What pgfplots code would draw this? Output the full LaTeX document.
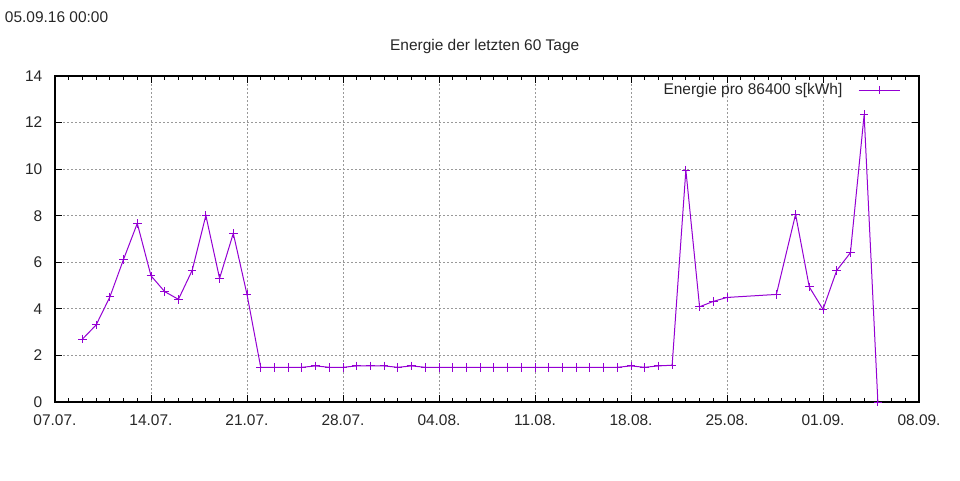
\documentclass[border=0pt]{standalone}
\usepackage{pgfplots}
\pgfplotsset{compat=1.18}
\usepackage{fontspec}
\setmainfont{Liberation Sans}
\definecolor{gpviolet}{HTML}{9400D3}
\newcommand{\gpfont}{\fontsize{11.6}{13}\selectfont}
\begin{document}
\begin{tikzpicture}[x=1pt,y=1pt]
\path[use as bounding box] (0,0) rectangle (720,360);
\node[anchor=west,font=\gpfont,text=black!85,inner sep=0pt] at (3.5,347.2) {05.09.16 00:00};
\node[font=\gpfont,text=black!85,inner sep=0pt] at (363.5,325.5) {Energie der letzten 60 Tage};
\begin{axis}[
  at={(41.25pt,58.5pt)}, anchor=south west,
  scale only axis, width=648pt, height=244.5pt,
  xmin=0, xmax=63, ymin=0, ymax=14,
  xtick={0,7,...,63},
  xticklabels={07.07.,14.07.,21.07.,28.07.,04.08.,11.08.,18.08.,25.08.,01.09.,08.09.},
  minor x tick num=6,
  ytick={0,2,...,14},
  tick align=inside,
  major tick length=5pt, minor tick length=3pt,
  grid=major,
  major grid style={black!40, dash pattern=on 1.5pt off 1.5pt, line width=0.6pt},
  axis line style={black, line width=0.8pt},
  tick style={black, line width=0.75pt},
  tick label style={font=\gpfont, text=black!85},
  /pgf/number format/assume math mode=true,
  yticklabel style={xshift=-6pt},
  xticklabel style={yshift=-6pt},
  legend style={at={(rel axis cs:1,1)}, anchor=north east, xshift=-13.5pt, yshift=-3.5pt,
    inner sep=0pt, draw=none, fill=none,
    font=\gpfont, text=black!85,
    /tikz/every odd column/.append style={column sep=10pt}},
  legend cell align=right,
  legend plot pos=right,
  legend image code/.code={\draw[#1] (0pt,0pt) -- (31pt,0pt); \draw[#1,mark repeat=2,mark phase=2] plot coordinates {(0pt,0pt) (15.5pt,0pt) (31pt,0pt)};},
]
\addplot[color=gpviolet, line width=0.75pt, mark=+, mark size=3.2pt, mark options={line width=0.75pt}]
coordinates {
(2,2.70) (3,3.31) (4,4.51) (5,6.13) (6,7.67) (7,5.42) (8,4.74) (9,4.41) (10,5.65)
(11,8.01) (12,5.31) (13,7.24) (14,4.62) (15,1.49) (16,1.49) (17,1.49) (18,1.49)
(19,1.55) (20,1.49) (21,1.49) (22,1.55) (23,1.55) (24,1.55) (25,1.49) (26,1.55)
(27,1.49) (28,1.49) (29,1.49) (30,1.49) (31,1.49) (32,1.49) (33,1.49) (34,1.49)
(35,1.49) (36,1.49) (37,1.49) (38,1.49) (39,1.49) (40,1.49) (41,1.49) (42,1.55)
(43,1.49) (44,1.55) (45,1.58) (46,9.96) (47,4.09) (48,4.32) (49,4.49) (52.6,4.62)
(54,8.06) (55,4.94) (56,3.98) (57,5.65) (58,6.41) (59,12.34) (60,0.0)
};
\addlegendentry{Energie pro 86400 s[kWh]}
\end{axis}
\end{tikzpicture}
\end{document}
